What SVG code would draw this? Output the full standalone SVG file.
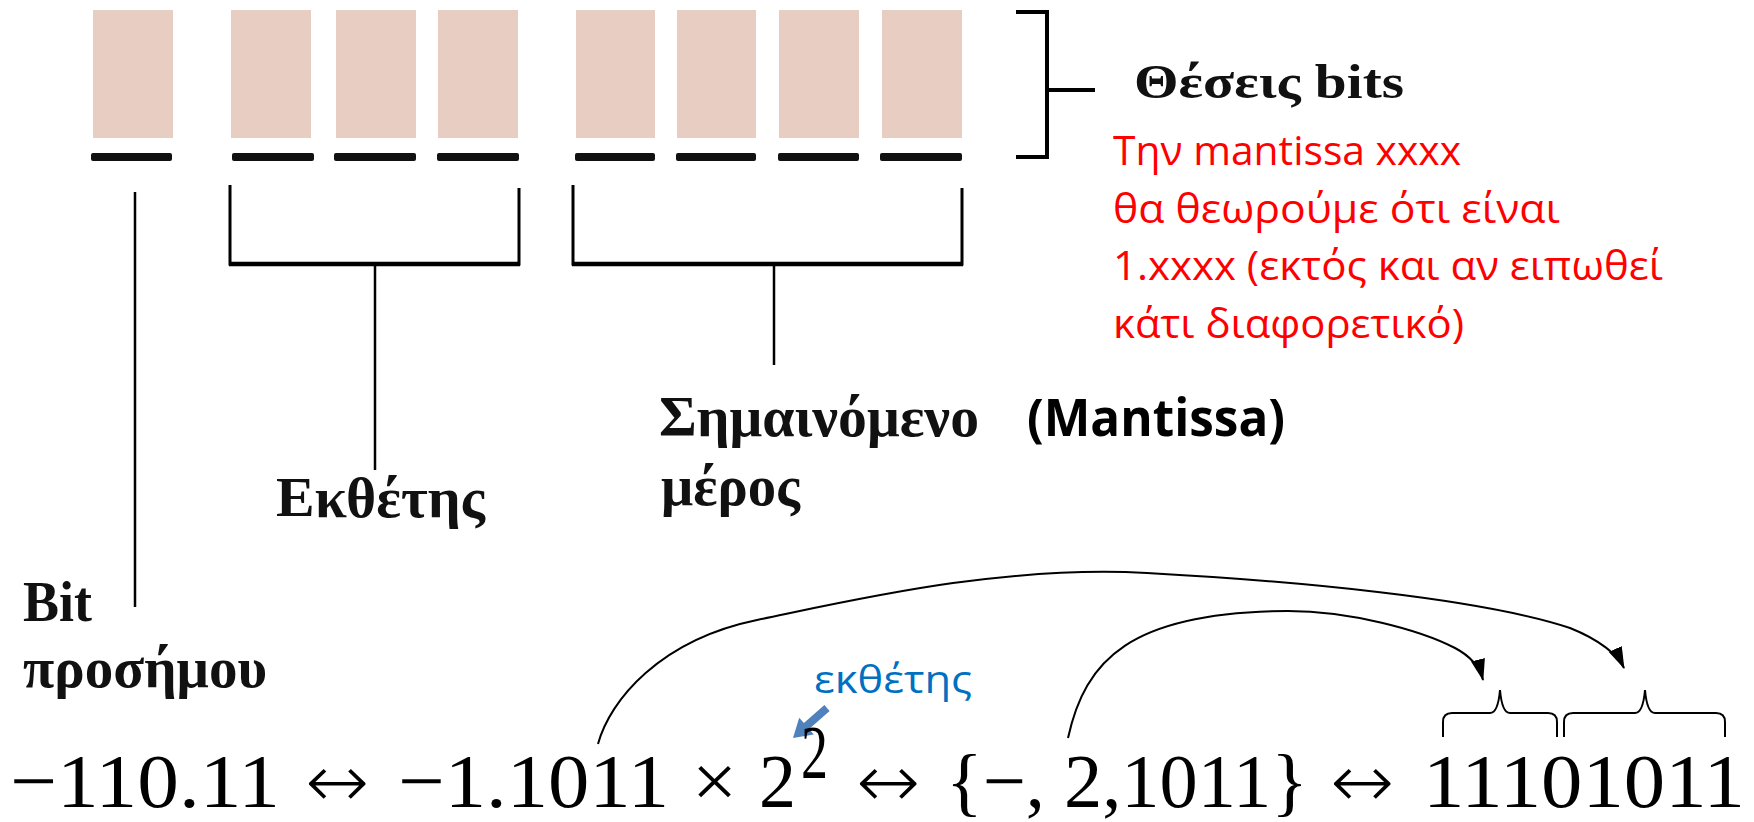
<svg xmlns="http://www.w3.org/2000/svg" width="1754" height="822" viewBox="0 0 1754 822">
  <defs>
    <style>
      .cell { fill: #e7cdc2; }
      .bar { fill: #111111; }
      .ln { stroke: #000000; fill: none; stroke-linecap: butt; }
      .lbl { font-family: "Liberation Serif", "Times New Roman", serif; font-weight: bold; fill: #111111; }
      .note { font-family: "Open Sans", "Noto Sans", "Liberation Sans", sans-serif; fill: #ff0000; font-size: 40px; }
      .eq { font-family: "Liberation Serif", "Times New Roman", serif; fill: #000000; font-size: 77px; }
      .arr { font-family: "DejaVu Sans", sans-serif; font-weight: 200; fill: #000000; font-size: 74px; }
      .curve { stroke: #000000; stroke-width: 2; fill: none; }
      .brace { stroke: #000000; stroke-width: 2; fill: none; }
    </style>
    <marker id="head" markerUnits="userSpaceOnUse" markerWidth="22" markerHeight="22" viewBox="0 0 20 13" refX="19" refY="6.5" orient="auto">
      <path d="M0,0 L20,6.5 L0,13 Z" fill="#000000"/>
    </marker>
  </defs>

  <!-- eight bit positions -->
  <g id="bit-cells">
    <rect class="cell" x="93" y="10" width="80" height="128"/>
    <rect class="cell" x="231" y="10" width="80" height="128"/>
    <rect class="cell" x="336" y="10" width="80" height="128"/>
    <rect class="cell" x="438" y="10" width="80" height="128"/>
    <rect class="cell" x="576" y="10" width="79" height="128"/>
    <rect class="cell" x="677" y="10" width="79" height="128"/>
    <rect class="cell" x="779" y="10" width="80" height="128"/>
    <rect class="cell" x="882" y="10" width="80" height="128"/>
    <rect class="bar" x="91" y="153" width="81" height="8" rx="2"/>
    <rect class="bar" x="232" y="153" width="82" height="8" rx="2"/>
    <rect class="bar" x="334" y="153" width="82" height="8" rx="2"/>
    <rect class="bar" x="437" y="153" width="82" height="8" rx="2"/>
    <rect class="bar" x="575" y="153" width="80" height="8" rx="2"/>
    <rect class="bar" x="676" y="153" width="80" height="8" rx="2"/>
    <rect class="bar" x="778" y="153" width="81" height="8" rx="2"/>
    <rect class="bar" x="880" y="153" width="82" height="8" rx="2"/>
  </g>

  <!-- brackets and leader lines -->
  <g id="connectors">
    <path class="ln" stroke-width="4" d="M1016,12 L1047,12 L1047,157 L1016,157"/>
    <path class="ln" stroke-width="4" d="M1047,90 L1095,90"/>
    <path class="ln" stroke-width="2.5" d="M135,192 L135,607"/>
    <path class="ln" stroke-width="3" d="M230,185 L230,264 L519,264 L519,188"/>
    <path class="ln" stroke-width="4.5" d="M229,264 L520,264"/>
    <path class="ln" stroke-width="2.5" d="M375,264 L375,470"/>
    <path class="ln" stroke-width="3" d="M573,185 L573,264 L962,264 L962,188"/>
    <path class="ln" stroke-width="4.5" d="M572,264 L963,264"/>
    <path class="ln" stroke-width="2.5" d="M774,264 L774,365"/>
    <path class="curve" marker-end="url(#head)" d="M598,744 C610,700 660,640 757,620 C854,600 1000,565 1147,573 C1294,581 1480,598 1570,628 C1600,640 1618,655 1624,668"/>
    <path class="curve" marker-end="url(#head)" d="M1068,738 C1085,660 1130,612 1288,611 C1350,611 1420,630 1455,648 C1472,657 1480,668 1483,680"/>
    <path class="brace" d="M1443,737 L1443,722 Q1443,713 1452,713 L1490,713 Q1498,713 1500,690 Q1502,713 1510,713 L1548,713 Q1557,713 1557,722 L1557,737"/>
    <path class="brace" d="M1564,737 L1564,722 Q1564,713 1573,713 L1635,713 Q1643,713 1645,690 Q1647,713 1655,713 L1716,713 Q1725,713 1725,722 L1725,737"/>
    <polygon fill="#4f81bd" points="829.6,711 809.1,729.1 813.8,734.4 793,738 799.2,717.8 803.9,723.1 824.4,705"/>
  </g>

  <!-- labels -->
  <g id="label-bits">
    <text class="lbl" x="1134" y="98" font-size="49" textLength="270" lengthAdjust="spacingAndGlyphs">Θέσεις bits</text>
  </g>
  <g id="note-mantissa">
    <text class="note" x="1113" y="165" textLength="348" lengthAdjust="spacingAndGlyphs">Την mantissa xxxx</text>
    <text class="note" x="1113" y="223" textLength="447" lengthAdjust="spacingAndGlyphs">θα θεωρούμε ότι είναι</text>
    <text class="note" x="1113" y="280" textLength="550" lengthAdjust="spacingAndGlyphs">1.xxxx (εκτός και αν ειπωθεί</text>
    <text class="note" x="1113" y="338" textLength="351" lengthAdjust="spacingAndGlyphs">κάτι διαφορετικό)</text>
  </g>
  <g id="label-significand">
    <text class="lbl" x="659" y="436" font-size="56" textLength="320" lengthAdjust="spacingAndGlyphs">Σημαινόμενο</text>
    <text class="lbl" x="661" y="505" font-size="56" textLength="139" lengthAdjust="spacingAndGlyphs">μέρος</text>
    <text x="1027" y="436" font-family="'Open Sans', 'Noto Sans', 'Liberation Sans', sans-serif" font-weight="bold" font-size="52" fill="#000000" textLength="258" lengthAdjust="spacingAndGlyphs">(Mantissa)</text>
  </g>
  <g id="label-exponent">
    <text class="lbl" x="276" y="517" font-size="56" textLength="209" lengthAdjust="spacingAndGlyphs">Εκθέτης</text>
  </g>
  <g id="label-sign">
    <text class="lbl" x="23" y="621" font-size="56" textLength="69" lengthAdjust="spacingAndGlyphs">Bit</text>
    <text class="lbl" x="23" y="687" font-size="56" textLength="244" lengthAdjust="spacingAndGlyphs">προσήμου</text>
  </g>
  <g id="label-exp-hint">
    <text x="814" y="693" font-family="'Open Sans', 'Noto Sans', 'Liberation Sans', sans-serif" font-size="38" fill="#0070c0" textLength="158" lengthAdjust="spacingAndGlyphs">εκθέτης</text>
  </g>

  <!-- equation row -->
  <g id="equation">
    <text class="eq" x="10" y="807" textLength="270" lengthAdjust="spacingAndGlyphs">−110.11</text>
    <text class="arr" x="305" y="807" textLength="64" lengthAdjust="spacingAndGlyphs">↔</text>
    <text class="eq" x="398" y="807" textLength="271" lengthAdjust="spacingAndGlyphs">−1.1011</text>
    <text class="eq" x="692" y="807" textLength="45" lengthAdjust="spacingAndGlyphs">×</text>
    <text class="eq" x="759" y="807" textLength="37" lengthAdjust="spacingAndGlyphs">2</text>
    <text class="eq" x="801" y="778" font-size="44" textLength="27" lengthAdjust="spacingAndGlyphs">2</text>
    <text class="arr" x="856" y="807" textLength="64" lengthAdjust="spacingAndGlyphs">↔</text>
    <text class="eq" x="946" y="807" textLength="362" lengthAdjust="spacingAndGlyphs">{−, 2,1011}</text>
    <text class="arr" x="1330" y="807" textLength="64" lengthAdjust="spacingAndGlyphs">↔</text>
    <text class="eq" x="1423" y="807" textLength="322" lengthAdjust="spacingAndGlyphs">11101011</text>
  </g>
</svg>
